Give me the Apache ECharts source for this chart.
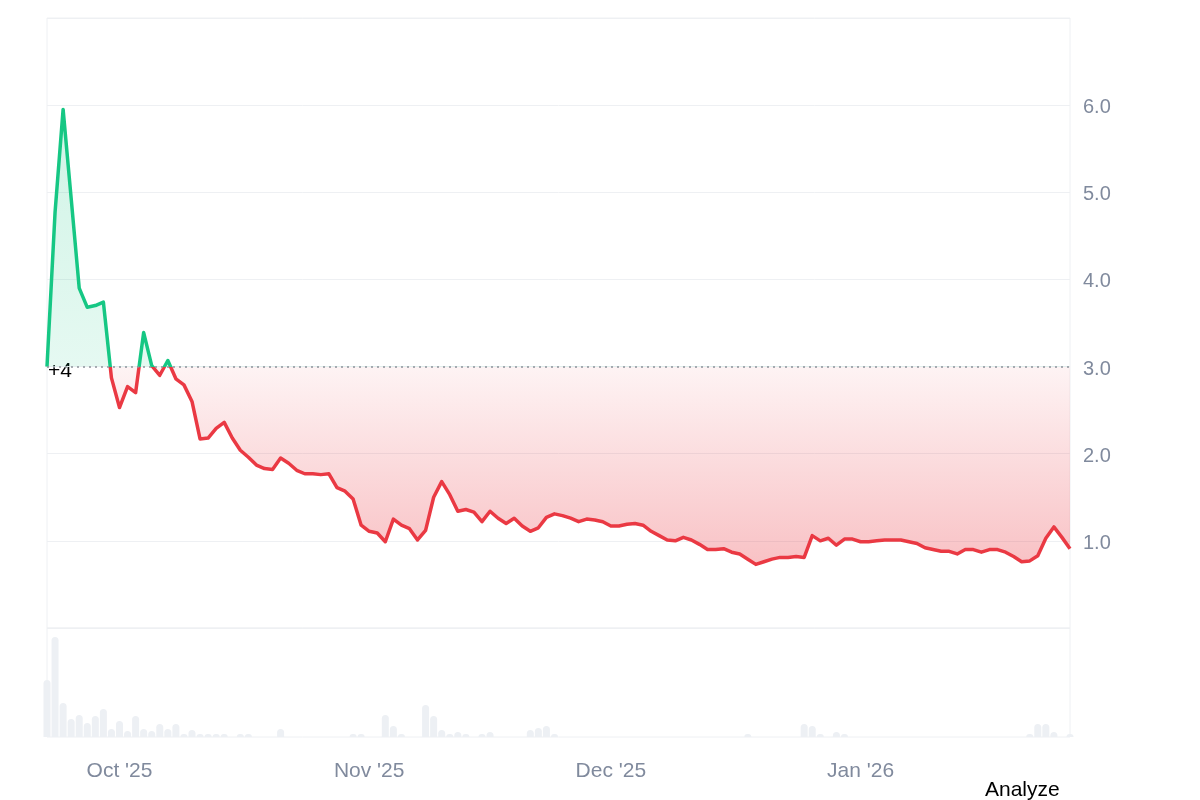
<!DOCTYPE html>
<html>
<head>
<meta charset="utf-8">
<title>price chart</title>
<script src="https://cdn.jsdelivr.net/npm/echarts@6/dist/echarts.min.js"></script>
<style>
    html, body { margin: 0; padding: 0; background: #fff; }
    #main { width: 1200px; height: 800px; }
</style>
</head>
<body>
<div id="main"></div>
<script>
// 日期（每日一个点）
var dates = [
    '2025-09-22','2025-09-23','2025-09-24','2025-09-25','2025-09-26','2025-09-27','2025-09-28','2025-09-29','2025-09-30',
    '2025-10-01','2025-10-02','2025-10-03','2025-10-04','2025-10-05','2025-10-06','2025-10-07','2025-10-08','2025-10-09','2025-10-10',
    '2025-10-11','2025-10-12','2025-10-13','2025-10-14','2025-10-15','2025-10-16','2025-10-17','2025-10-18','2025-10-19','2025-10-20',
    '2025-10-21','2025-10-22','2025-10-23','2025-10-24','2025-10-25','2025-10-26','2025-10-27','2025-10-28','2025-10-29','2025-10-30','2025-10-31',
    '2025-11-01','2025-11-02','2025-11-03','2025-11-04','2025-11-05','2025-11-06','2025-11-07','2025-11-08','2025-11-09','2025-11-10',
    '2025-11-11','2025-11-12','2025-11-13','2025-11-14','2025-11-15','2025-11-16','2025-11-17','2025-11-18','2025-11-19','2025-11-20',
    '2025-11-21','2025-11-22','2025-11-23','2025-11-24','2025-11-25','2025-11-26','2025-11-27','2025-11-28','2025-11-29','2025-11-30',
    '2025-12-01','2025-12-02','2025-12-03','2025-12-04','2025-12-05','2025-12-06','2025-12-07','2025-12-08','2025-12-09','2025-12-10',
    '2025-12-11','2025-12-12','2025-12-13','2025-12-14','2025-12-15','2025-12-16','2025-12-17','2025-12-18','2025-12-19','2025-12-20',
    '2025-12-21','2025-12-22','2025-12-23','2025-12-24','2025-12-25','2025-12-26','2025-12-27','2025-12-28','2025-12-29','2025-12-30','2025-12-31',
    '2026-01-01','2026-01-02','2026-01-03','2026-01-04','2026-01-05','2026-01-06','2026-01-07','2026-01-08','2026-01-09','2026-01-10',
    '2026-01-11','2026-01-12','2026-01-13','2026-01-14','2026-01-15','2026-01-16','2026-01-17','2026-01-18','2026-01-19','2026-01-20',
    '2026-01-21','2026-01-22','2026-01-23','2026-01-24','2026-01-25','2026-01-26','2026-01-27'
];

// 价格
var prices = [
    3.00, 4.77, 5.95, 4.93, 3.90, 3.68, 3.70, 3.74, 2.87,
    2.53, 2.77, 2.70, 3.39, 3.01, 2.90, 3.07, 2.86, 2.79, 2.60,
    2.17, 2.18, 2.29, 2.36, 2.18, 2.04, 1.96, 1.87, 1.83, 1.82,
    1.95, 1.89, 1.81, 1.77, 1.77, 1.76, 1.77, 1.61, 1.57, 1.48, 1.18,
    1.11, 1.09, 0.99, 1.25, 1.18, 1.14, 1.01, 1.12, 1.50, 1.68,
    1.53, 1.34, 1.36, 1.33, 1.22, 1.34, 1.26, 1.20, 1.26, 1.17,
    1.11, 1.15, 1.27, 1.31, 1.29, 1.26, 1.22, 1.25, 1.24, 1.22,
    1.17, 1.17, 1.19, 1.20, 1.18, 1.11, 1.06, 1.01, 1.00, 1.04,
    1.01, 0.96, 0.90, 0.90, 0.91, 0.87, 0.85, 0.79, 0.73, 0.76,
    0.79, 0.81, 0.81, 0.82, 0.81, 1.06, 1.00, 1.03, 0.95, 1.02, 1.02,
    0.99, 0.99, 1.00, 1.01, 1.01, 1.01, 0.99, 0.97, 0.92, 0.90,
    0.88, 0.88, 0.85, 0.90, 0.90, 0.87, 0.90, 0.90, 0.87, 0.82,
    0.76, 0.77, 0.83, 1.03, 1.16, 1.04, 0.91
];

// 成交量
var volumes = [
    57, 100, 34, 18, 22, 14, 21, 28, 8,
    16, 6, 21, 8, 6, 13, 8, 13, 3, 7,
    3, 3, 3, 3, 0, 3, 3, 0, 0, 0,
    8, 0, 0, 0, 0, 0, 0, 0, 0, 3, 3,
    0, 0, 22, 11, 3, 0, 0, 32, 21, 7,
    3, 5, 3, 0, 3, 5, 0, 0, 0, 0,
    7, 9, 11, 3, 0, 0, 0, 0, 0, 0,
    0, 0, 0, 0, 0, 0, 0, 0, 0, 0,
    0, 0, 0, 0, 0, 0, 0, 3, 0, 0,
    0, 0, 0, 0, 13, 11, 3, 0, 5, 3, 0,
    0, 0, 0, 0, 0, 0, 0, 0, 0, 0,
    0, 0, 0, 0, 0, 0, 0, 0, 0, 0,
    0, 3, 13, 13, 5, 0, 3
];

var monthNames = ['Jan','Feb','Mar','Apr','May','Jun','Jul','Aug','Sep','Oct','Nov','Dec'];
var yTicks = [1, 2, 3, 4, 5, 6];

var GREEN = '#16c784';
var RED = '#ea3943';
var GRID_LINE = '#eef0f3';
var LABEL = '#808a9d';
var FONT = '"Liberation Sans", Arial, sans-serif';

function drawChart() {
    var myChart = echarts.init(document.getElementById('main'));

    var base = prices[0];   // 起始价，作为基准线
    var pMax = Math.max.apply(null, prices);
    var pMin = Math.min.apply(null, prices);
    var cut = (pMax - base) / (pMax - pMin);   // 渐变中基准线的位置

    var option = {
        animation: false,
        backgroundColor: '#fff',
        grid: [
            { left: 47, right: 130, top: 18, height: 610, show: true, borderColor: GRID_LINE, borderWidth: 1 },
            { left: 47, right: 130, top: 628, height: 109, show: true, borderColor: GRID_LINE, borderWidth: 1 }
        ],
        xAxis: [
            {
                type: 'category', gridIndex: 0, data: dates, boundaryGap: false,
                axisLine: { show: false }, axisTick: { show: false }, axisLabel: { show: false },
                splitLine: { show: false }
            },
            {
                type: 'category', gridIndex: 1, data: dates, boundaryGap: false,
                axisLine: { show: false }, axisTick: { show: false }, splitLine: { show: false },
                axisLabel: {
                    interval: function (idx, val) { return val.slice(8) === '01'; },
                    formatter: function (val) {
                        return monthNames[parseInt(val.slice(5, 7), 10) - 1] + " '" + val.slice(2, 4);
                    },
                    color: LABEL, fontSize: 21, fontFamily: FONT, margin: 24
                }
            }
        ],
        yAxis: [
            {
                type: 'value', gridIndex: 0, position: 'right', min: 0, max: 7, interval: 1,
                axisLine: { show: false }, axisTick: { show: false },
                splitLine: { lineStyle: { color: GRID_LINE, width: 1 } },
                axisLabel: {
                    margin: 13,
                    formatter: function (v) { return yTicks.indexOf(v) >= 0 ? '{t|' + v.toFixed(1) + '}' : ''; },
                    rich: {
                        t: { color: LABEL, fontSize: 20, fontFamily: FONT, padding: [5, 0, 0, 0] }
                    }
                }
            },
            {
                type: 'value', gridIndex: 1, min: 0, max: 109,
                axisLine: { show: false }, axisTick: { show: false },
                axisLabel: { show: false }, splitLine: { show: false }
            }
        ],
        // 高于起始价为绿色，低于为红色
        visualMap: {
            type: 'piecewise', show: false, seriesIndex: 0, dimension: 1,
            pieces: [
                { gt: -100, lt: base, color: RED },
                { gte: base, lte: 100, color: GREEN }
            ]
        },
        graphic: [
            {
                type: 'text', left: 48, top: 361, silent: true,
                style: { text: '+4', fontSize: 21, fontFamily: FONT, fill: '#000' }
            },
            {
                type: 'text', left: 985, top: 780, silent: true,
                style: { text: 'Analyze', fontSize: 21, fontFamily: FONT, fill: '#000' }
            }
        ],
        series: [
            {
                type: 'line', xAxisIndex: 0, yAxisIndex: 0, data: prices,
                showSymbol: false, smooth: false, z: 3,
                lineStyle: { width: 3.5, join: 'round' },
                areaStyle: {
                    origin: base,
                    opacity: 1,
                    color: new echarts.graphic.LinearGradient(0, 0, 0, 1, [
                        { offset: 0, color: 'rgba(22,199,132,0.20)' },
                        { offset: cut, color: 'rgba(22,199,132,0.11)' },
                        { offset: cut, color: 'rgba(234,57,67,0.06)' },
                        { offset: 1, color: 'rgba(234,57,67,0.31)' }
                    ])
                },
                markLine: {
                    silent: true, symbol: ['none', 'none'],
                    label: { show: false },
                    lineStyle: { type: [2, 4], color: '#8d929b', width: 1.5 },
                    data: [{ yAxis: base }]
                }
            },
            {
                type: 'bar', xAxisIndex: 1, yAxisIndex: 1, data: volumes,
                barWidth: 7,
                itemStyle: { color: '#edf0f4', borderRadius: [4, 4, 0, 0] }
            }
        ]
    };
    myChart.setOption(option);
    window.addEventListener("resize", function () {
        myChart.resize();
    });
}
drawChart();
</script>
</body>
</html>
